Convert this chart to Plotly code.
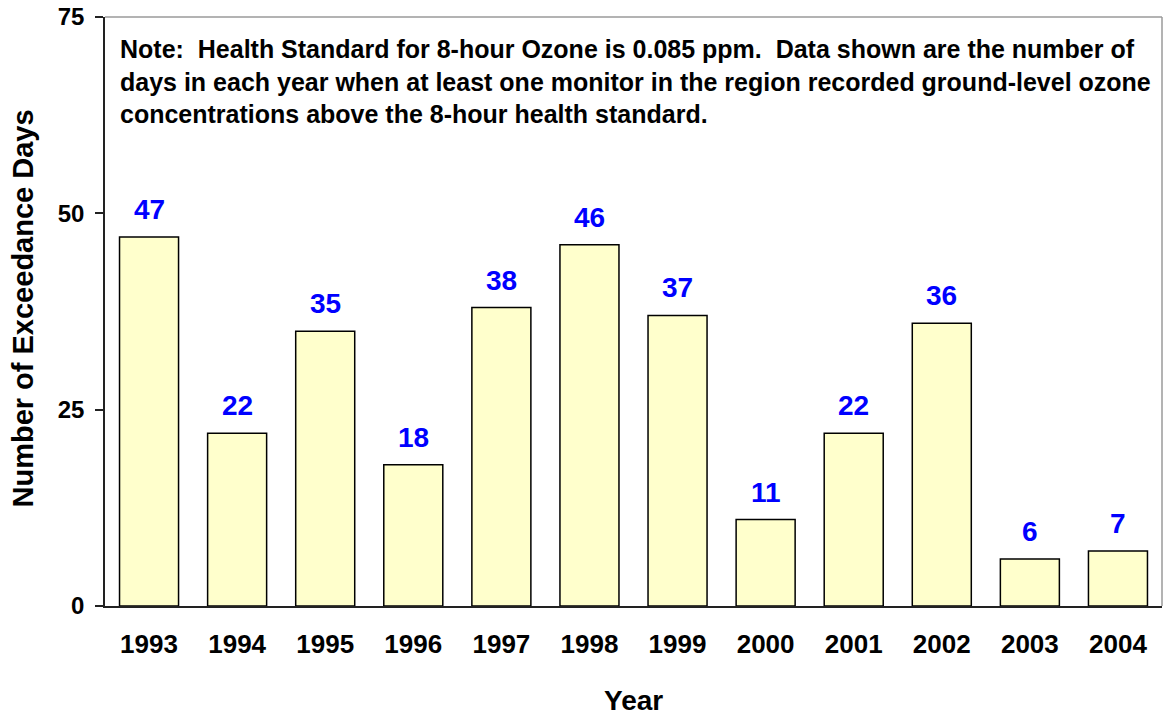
import plotly.graph_objects as go

years = ["1993", "1994", "1995", "1996", "1997", "1998", "1999", "2000", "2001", "2002", "2003", "2004"]
days = [47, 22, 35, 18, 38, 46, 37, 11, 22, 36, 6, 7]
y_ticks = [0, 25, 50, 75]
note_lines = [
    "Note:  Health Standard for 8-hour Ozone is 0.085 ppm.  Data shown are the number of",
    "days in each year when at least one monitor in the region recorded ground-level ozone",
    "concentrations above the 8-hour health standard.",
]

FONT = "Liberation Sans, Arial, sans-serif"

fig = go.Figure()
fig.add_trace(go.Bar(
    x=years, y=days,
    marker=dict(color="#FFFFCC", line=dict(color="black", width=1.5)),
    hoverinfo="x+y",
))

# value labels (category axis: positions are category indices)
for i, v in enumerate(days):
    fig.add_annotation(x=i, y=v, text=str(v), showarrow=False,
                       yanchor="bottom", yshift=10,
                       font=dict(family=FONT, size=28, color="#0000FF", weight="bold"))

fig.add_annotation(xref="paper", yref="paper", x=0.0123, y=0.973,
                   xanchor="left", yanchor="top", align="left", showarrow=False,
                   text="<br>".join(note_lines),
                   font=dict(family=FONT, size=25, color="black", weight="bold"))

fig.add_annotation(xref="paper", yref="paper", x=0.5, y=-0.1596,
                   xanchor="center", yanchor="middle", showarrow=False,
                   text="Year", font=dict(family=FONT, size=28, color="black", weight="bold"))
fig.add_annotation(xref="paper", yref="paper", x=-0.0776, y=0.505, textangle=-90,
                   xanchor="center", yanchor="middle", showarrow=False,
                   text="Number of Exceedance Days",
                   font=dict(family=FONT, size=29, color="black", weight="bold"))

# gray frame on top and right
fig.add_shape(type="line", xref="paper", yref="paper", x0=0, x1=1, y0=1, y1=1,
              line=dict(color="#9A9A9A", width=1.5))
fig.add_shape(type="line", xref="paper", yref="paper", x0=1, x1=1, y0=0, y1=1,
              line=dict(color="#9A9A9A", width=1.5))

fig.update_layout(
    width=1167, height=717,
    margin=dict(l=105, r=5, t=17, b=111),
    plot_bgcolor="white", paper_bgcolor="white",
    bargap=0.33,
    showlegend=False,
    font=dict(family=FONT, color="black"),
    xaxis=dict(
        type="category", automargin=False,
        range=[-0.5, len(years) - 0.5],
        showline=True, linecolor="#222222", linewidth=1.5,
        ticks="", ticklabelstandoff=14,
        tickfont=dict(family=FONT, size=26, color="black", weight="bold"),
    ),
    yaxis=dict(
        range=[0, 75], tickvals=y_ticks, showgrid=False, zeroline=False,
        automargin=False, ticklabeloverflow="allow",
        showline=True, linecolor="#222222", linewidth=1.5,
        ticks="outside", ticklen=8, tickcolor="#222222", tickwidth=1.5,
        ticklabelstandoff=6,
        tickfont=dict(family=FONT, size=24, color="black", weight="bold"),
    ),
)

# remove the default 8px page margin so the 1167x717 figure fills the window exactly
fig.write_html("out.html", config={"displayModeBar": False},
               post_script="document.body.style.margin='0';document.body.style.overflow='hidden';")
